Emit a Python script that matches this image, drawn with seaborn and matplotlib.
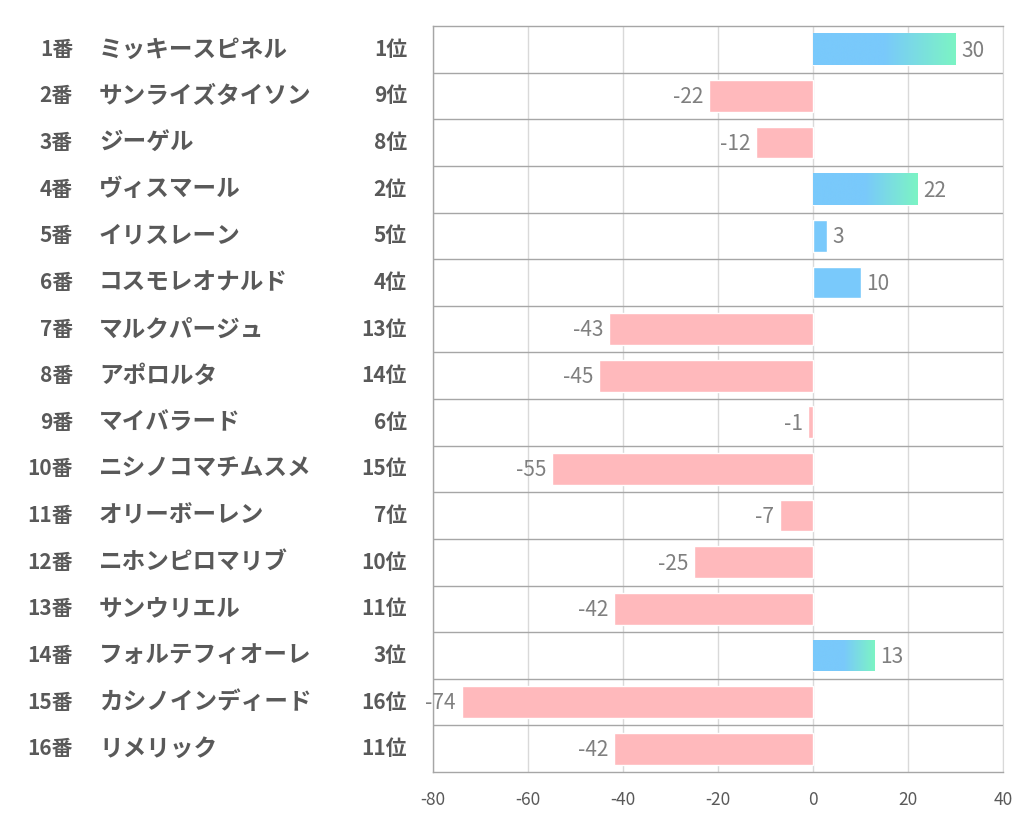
import numpy as np
import matplotlib
matplotlib.use("Agg")
import matplotlib.pyplot as plt
import matplotlib.transforms as mtransforms
from matplotlib.colors import to_rgb
import seaborn as sns

# data
numbers = [f"{i}番" for i in range(1, 17)]
names = ["ミッキースピネル", "サンライズタイソン", "ジーゲル", "ヴィスマール",
         "イリスレーン", "コスモレオナルド", "マルクパージュ", "アポロルタ",
         "マイバラード", "ニシノコマチムスメ", "オリーボーレン", "ニホンピロマリブ",
         "サンウリエル", "フォルテフィオーレ", "カシノインディード", "リメリック"]
ranks = [1, 9, 8, 2, 5, 4, 13, 14, 6, 15, 7, 10, 11, 3, 16, 11]
values = [30, -22, -12, 22, 3, 10, -43, -45, -1, -55, -7, -25, -42, 13, -74, -42]

BLUE = "#79c9fb"
GREEN = "#7cf4c4"
PINK = "#ffb9bc"
TEXT = "#595959"

sns.set_style("white")
plt.rcParams["font.family"] = ["Noto Sans CJK JP", "DejaVu Sans"]
plt.rcParams["axes.unicode_minus"] = False

fig = plt.figure(figsize=(10.22, 8.34), dpi=100)
ax = fig.add_axes([433 / 1022, 1 - 772 / 834, 570 / 1022, 746 / 834])

cats = [str(i) for i in range(len(values))]
colors = [BLUE if v >= 0 else PINK for v in values]
sns.barplot(x=values, y=cats, hue=cats, palette=colors, orient="h",
            legend=False, width=0.68, ax=ax, saturation=1, zorder=3)

# gradient fill for the top-3 ranked horses
b = np.array(to_rgb(BLUE))
g = np.array(to_rgb(GREEN))
t = np.linspace(0, 1, 256)
w = np.clip((t - 0.5) / 0.5, 0, 1)[:, None]
grad = (b * (1 - w) + g * w)[None, :, :]

for i, patch in enumerate(ax.patches):
    if ranks[i] <= 3 and values[i] > 0:
        x0, y0 = patch.get_x(), patch.get_y()
        pw, ph = patch.get_width(), patch.get_height()
        im = ax.imshow(grad, extent=[x0, x0 + pw, y0 + ph, y0], aspect="auto",
                       zorder=4, interpolation="bilinear")
        im.set_clip_path(patch)

ax.set_xlim(-80, 40)
ax.set_ylim(len(values) - 0.5, -0.5)
ax.set_xticks(range(-80, 41, 20))
ax.set_yticks([])
ax.set_xlabel("")
ax.set_ylabel("")
ax.tick_params(axis="x", length=0, pad=14, labelsize=12.5, labelcolor=TEXT)
ax.grid(axis="x", color="#d9d9d9", linewidth=1, zorder=0)
ax.set_axisbelow(True)
for k in range(len(values) - 1):
    ax.axhline(k + 0.5, color="#a6a6a6", linewidth=1, zorder=2)
for side in ["left", "top", "bottom"]:
    ax.spines[side].set_color("#a6a6a6")
    ax.spines[side].set_linewidth(1)
ax.spines["right"].set_color("#d9d9d9")

# value labels
for i, v in enumerate(values):
    if v >= 0:
        ax.annotate(str(v), (v, i), xytext=(4, -1), textcoords="offset points",
                    ha="left", va="center", fontsize=15, color="#7f7f7f")
    else:
        ax.annotate(str(v), (v, i), xytext=(-4, -1), textcoords="offset points",
                    ha="right", va="center", fontsize=15, color="#7f7f7f")

# left text columns
trans = mtransforms.blended_transform_factory(fig.transFigure, ax.transData)
for i in range(len(values)):
    ax.text(73 / 1022, i, numbers[i], transform=trans, ha="right", va="center",
            fontsize=15, fontweight="bold", color=TEXT, clip_on=False)
    ax.text(99 / 1022, i, names[i], transform=trans, ha="left", va="center",
            fontsize=17, fontweight="bold", color=TEXT, clip_on=False)
    ax.text(407 / 1022, i, f"{ranks[i]}位", transform=trans, ha="right", va="center",
            fontsize=15, fontweight="bold", color=TEXT, clip_on=False)

fig.savefig("out.png", dpi=100, facecolor="white")
